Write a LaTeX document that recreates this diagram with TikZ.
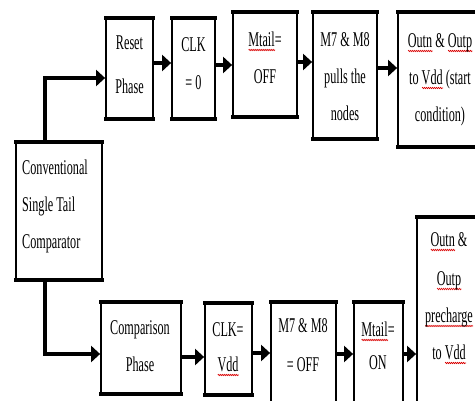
\documentclass[tikz,border=0pt]{standalone}
\usepackage{fontspec}
\setmainfont{Liberation Serif}[FakeStretch=0.58]
\usetikzlibrary{fit,arrows.meta,decorations.pathmorphing}
\newsavebox\spellbox
\newcommand\spell[1]{\sbox\spellbox{#1}\rlap{\raisebox{-4pt}{\tikz[x=1pt,y=1pt]\draw[red!85!black, line width=0.6pt, decorate, decoration={zigzag,amplitude=0.7pt,segment length=2pt}] (0,0) -- (\wd\spellbox,0);}}\usebox\spellbox}
\newcommand\mlc[1]{\begin{tabular}[t]{@{}c@{}}#1\end{tabular}}
\newcommand\mll[1]{\begin{tabular}[t]{@{}l@{}}#1\end{tabular}}
\tikzset{
  box/.style={draw, line width=1.8pt, inner sep=0pt},
  txt/.style={anchor=base, inner sep=0pt, font=\fontsize{21}{37}\selectfont},
  arr/.style={line width=4.5pt, -{Triangle[length=9pt,width=16pt]}},
}
\begin{document}
\begin{tikzpicture}[x=1pt,y=-1pt]
\useasboundingbox (0,0) rectangle (475,401);
% boxes
\node (conv) [box, fit={(16,143) (102,279)}] {};
\node (reset) [box, fit={(106,19) (153,118)}] {};
\node (clk0) [box, fit={(172,19) (215,118)}] {};
\node (mtoff) [box, fit={(233,13) (297,116)}] {};
\node (mpull) [box, fit={(313,13) (377,138)}] {};
\node (outa) [box, fit={(398,13) (495,146)}] {};
\node (comp) [box, fit={(101,303) (181,393)}] {};
\node (clkv) [box, fit={(205,304) (252,394)}] {};
\node (moff) [box, fit={(271,303) (336,415)}] {};
\node (mton) [box, fit={(354,303) (403,415)}] {};
\node (outb) [box, fit={(417,218) (495,415)}] {};
\foreach \n in {conv,reset,clk0,mtoff,mpull,outa,comp,clkv,moff,mton,outb}
  \draw[line width=4pt] ([xshift=-1pt]\n.north west) -- ([xshift=1pt]\n.north east)
        ([xshift=-1pt]\n.south west) -- ([xshift=1pt]\n.south east);
% texts
\node (tconv) [txt, anchor=base west] at (22,175) {\mll{Conventional\\Single Tail\\Comparator}};
\node (treset) [txt] at (129.5,50) {\mlc{Reset\\[7pt]Phase}};
\node (tclk0) [txt] at (193.5,52) {\mlc{CLK\\[1pt]= 0}};
\node (tmtoff) [txt] at (265,47) {\mlc{\spell{Mtail}=\\OFF}};
\node (tmpull) [txt] at (345,47) {\mlc{M7 \& M8\\pulls the\\nodes}};
\node (touta) [txt] at (440,48) {\mlc{\spell{Outn} \& \spell{Outp}\\to \spell{Vdd} (start\\condition)}};
\node (tcomp) [txt] at (140,335) {\mlc{Comparison\\Phase}};
\node (tclkv) [txt] at (228,337) {\mlc{CLK=\\[-2pt]\spell{Vdd}}};
\node (tmoff) [txt] at (303,333) {\mlc{M7 \& M8\\[2pt]= OFF}};
\node (tmton) [txt] at (378,337) {\mlc{\spell{Mtail}=\\[-4pt]ON}};
\node (toutb) [txt] at (449,247) {\mlc{\spell{Outn} \&\\[2pt]\spell{Outp}\\\spell{precharge}\\to \spell{Vdd}}};
% connectors
\coordinate (c1) at (45,78);
\coordinate (c2) at (45,354);
\draw[arr] (conv.north -| c1) -- (c1) -- (reset.west |- c1);
\draw[arr] (conv.south -| c2) -- (c2) -- (comp.west |- c2);
\draw[arr] (reset.east |- 0,63) -- (clk0.west |- 0,63);
\draw[arr] (clk0.east |- 0,65) -- (mtoff.west |- 0,65);
\draw[arr] (mtoff.east |- 0,62) -- (mpull.west |- 0,62);
\draw[arr] (mpull.east |- 0,68) -- (outa.west |- 0,68);
\draw[arr] (comp.east |- 0,357) -- (clkv.west |- 0,357);
\draw[arr] (clkv.east |- 0,353) -- (moff.west |- 0,353);
\draw[arr] (moff.east |- 0,354) -- (mton.west |- 0,354);
\draw[arr] (mton.east |- 0,354) -- (outb.west |- 0,354);
\end{tikzpicture}
\end{document}
